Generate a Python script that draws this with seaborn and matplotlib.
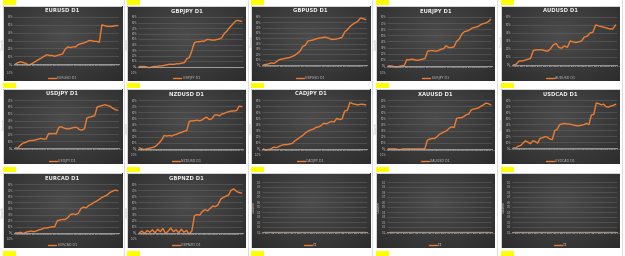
import numpy as np
import pandas as pd
import seaborn as sns
import matplotlib.pyplot as plt
import matplotlib.patches as patches
from matplotlib.lines import Line2D

# ==========================================
# Data (growth in %)
# ==========================================
eurusd = [0, 2, 3, 2, 1, -1, 0, 2, 4, 6, 8, 10, 12, 11, 11, 10, 11, 12, 13, 19, 22, 21, 22,
          22, 25, 26, 27, 28, 30, 30, 29, 29, 28, 50, 49, 48, 48, 48, 49, 49]
gbpjpy = [0, 0, 0, -1, -2, -1, 0, 0, 1, 1, 2, 3, 4, 4, 4, 5, 5, 6, 7, 14, 16, 28, 43, 45, 45,
          46, 46, 49, 49, 48, 48, 49, 50, 52, 60, 64, 70, 75, 80, 84, 83, 82]
gbpusd = [0, 1, 2, 4, 3, 6, 10, 11, 12, 13, 14, 16, 18, 22, 26, 35, 37, 45, 46, 47, 49, 50,
          51, 52, 52, 50, 48, 48, 49, 50, 52, 62, 66, 72, 76, 79, 82, 88, 87, 85]
eurjpy = [0, 0, -1, -2, -1, 0, 0, 10, 10, 11, 10, 9, 10, 11, 12, 24, 25, 25, 24, 25, 27, 28,
          33, 30, 30, 31, 40, 44, 52, 56, 57, 59, 62, 63, 64, 67, 69, 70, 72, 76]
audusd = [0, 1, 5, 5, 6, 7, 8, 18, 19, 19, 19, 18, 17, 20, 25, 27, 22, 21, 24, 22, 30, 29,
          28, 29, 30, 35, 36, 40, 41, 50, 49, 48, 47, 46, 45, 45, 50]
usdjpy = [0, 0, 4, 7, 8, 10, 11, 11, 12, 13, 14, 13, 13, 21, 21, 21, 21, 30, 31, 29, 28, 28,
          29, 30, 30, 27, 26, 28, 44, 45, 46, 47, 60, 61, 62, 63, 62, 61, 58, 56, 55]
nzdusd = [2, 0, -1, 0, 1, 2, 3, 6, 10, 15, 22, 21, 22, 21, 23, 24, 26, 27, 29, 30, 45, 46,
          46, 47, 46, 47, 50, 52, 48, 49, 55, 56, 54, 57, 58, 60, 61, 62, 62, 63, 70, 69]
cadjpy = [0, -2, -1, 0, 3, 2, 4, 6, 7, 7, 8, 9, 13, 16, 19, 22, 26, 29, 31, 32, 35, 36, 38,
          42, 41, 43, 45, 44, 50, 48, 49, 62, 63, 76, 74, 73, 72, 73, 73, 72]
xauusd = [0, 0, 0, 0, -1, -1, 0, 0, 0, 0, 0, 0, 0, 0, 0, 0, 14, 16, 17, 17, 20, 24, 26, 28,
          30, 34, 36, 35, 50, 51, 51, 53, 56, 57, 64, 65, 66, 67, 70, 72, 75, 74, 72]
usdcad = [0, 0, 3, 4, 8, 12, 10, 7, 12, 11, 8, 16, 17, 19, 18, 15, 14, 29, 31, 39, 40, 41,
          40, 40, 39, 38, 37, 37, 38, 39, 41, 39, 55, 56, 75, 74, 72, 73, 69, 68, 70, 71, 73]
eurcad = [0, 0, 1, -1, 1, 2, 3, 2, 3, 5, 6, 8, 8, 9, 10, 10, 20, 21, 22, 22, 25, 30, 31, 30,
          32, 40, 42, 41, 45, 47, 50, 52, 55, 58, 60, 62, 66, 68, 70, 69]
gbpnzd = [0, 3, -1, 4, 1, 5, 0, 6, 2, 7, -1, 3, 8, 2, 5, 0, 6, 1, 4, -2, 3, 28, 30, 29, 35,
          38, 36, 40, 44, 43, 46, 55, 58, 60, 62, 70, 72, 68, 66, 65]
empty = [0] * 33

titles = ["EURUSD D1", "GBPJPY D1", "GBPUSD D1", "EURJPY D1", "AUDUSD D1",
          "USDJPY D1", "NZDUSD D1", "CADJPY D1", "XAUUSD D1", "USDCAD D1",
          "EURCAD D1", "GBPNZD D1", "", "", ""]
series = [eurusd, gbpjpy, gbpusd, eurjpy, audusd,
          usdjpy, nzdusd, cadjpy, xauusd, usdcad,
          eurcad, gbpnzd, empty, empty, empty]

# tick labels: trade dates
dates = list(pd.date_range("2019-01-07", periods=45, freq="7D").strftime("%d.%m.%y"))

# ==========================================
# Layout (pixels)
# ==========================================
W, H = 625, 256
col_x0 = [3, 127, 251, 376, 501]
row_y0 = [6, 89, 173]
box_w, box_h = 119, 75

sns.set_style("dark")
plt.rcParams["font.family"] = ["DejaVu Sans"]

fig = plt.figure(figsize=(W / 100, H / 100), dpi=100)
fig.patch.set_facecolor("white")


def fig_rect(x, y, w, h):
    return [x / W, 1 - (y + h) / H, w / W, h / H]


# radial gradient used for the chart area
gy, gx = np.mgrid[0:1:80j, 0:1:120j]
dist = np.sqrt((gx - 0.5) ** 2 + ((gy - 0.4) * 0.9) ** 2)
shade = np.clip(1 - dist / 0.75, 0, 1)
dark = np.array([0.17, 0.17, 0.17])
light = np.array([0.30, 0.30, 0.30])
grad = dark + (light - dark) * shade[..., None]

orange = "#ED7D31"
txt = "#bfbfbf"

# spreadsheet cell lines and yellow markers
for cx in col_x0:
    fig.add_artist(Line2D([(cx + 121) / W] * 2, [0, 1], color="#d6d6d6", lw=0.6))
    for yy in [0, 83, 167, 251]:
        fig.add_artist(patches.Rectangle((cx / W, 1 - (yy + 5) / H), 13 / W, 5 / H,
                                         transform=fig.transFigure, color="#FFFF00", lw=0))

for i, (title, vals) in enumerate(zip(titles, series)):
    r, c = divmod(i, 5)
    bx, by = col_x0[c], row_y0[r]

    # chart area
    frame = fig.add_axes(fig_rect(bx, by, box_w, box_h))
    frame.imshow(grad, extent=[0, 1, 0, 1], aspect="auto", origin="upper")
    frame.add_patch(patches.Rectangle((0, 0), 1, 1, transform=frame.transAxes, fill=False,
                                      edgecolor="#d9d9d9", lw=0.7))
    frame.set_axis_off()

    vmin, vmax = min(vals), max(vals)
    if vmax == 0:
        bottom, top, step = 0, 1, 0.1
    else:
        bottom = -10 if vmin < 0 else 0
        top = (np.floor(vmax / 10) + 1) * 10
        step = 10

    top_off = 11 if title else 9
    bot_off = 9 if bottom < 0 else 16
    ax = fig.add_axes(fig_rect(bx + 11, by + top_off, box_w - 14, box_h - top_off - bot_off))
    ax.patch.set_alpha(0)

    df = pd.DataFrame({"x": np.arange(len(vals)), "growth": vals})
    sns.lineplot(data=df, x="x", y="growth", ax=ax, color=orange, linewidth=1.0,
                 label=title if title else "D1", legend=False)

    ax.set_xlim(-0.5, len(vals) - 0.5)
    ax.set_ylim(bottom, top)
    yt = np.arange(bottom, top + step / 2, step)
    ax.set_yticks(yt)
    if step < 1:
        ax.set_yticklabels([f"{v:.1f}" for v in yt])
    else:
        ax.set_yticklabels([f"{v:.0f}%" for v in yt])
    xt = np.arange(0, len(vals), 2)
    ax.set_xticks(xt)
    ax.set_xticklabels([dates[k] for k in xt], rotation=90)
    ax.tick_params(axis="both", length=0, pad=0.6, labelsize=1.9, labelcolor=txt)
    ax.tick_params(axis="x", labelsize=1.6)
    ax.grid(axis="y", color="#626262", lw=0.4)
    ax.grid(axis="x", visible=False)
    ax.set_axisbelow(True)
    for s in ["top", "right", "left"]:
        ax.spines[s].set_visible(False)
    ax.spines["bottom"].set_position(("data", 0))
    ax.spines["bottom"].set_color("#a6a6a6")
    ax.spines["bottom"].set_linewidth(0.6)
    ax.set_xlabel("")
    ax.set_ylabel("Growth", fontsize=2.4, color=txt, labelpad=1)

    if title:
        fig.text((bx + box_w / 2) / W, 1 - (by + 5) / H, title, ha="center", va="center",
                 fontsize=3.8, fontweight="bold", color="#f2f2f2")

    handle = Line2D([], [], color=orange, lw=1.0)
    fig.legend([handle], [title if title else "D1"], loc="center",
               bbox_to_anchor=((bx + box_w / 2) / W, 1 - (by + box_h - 3) / H),
               frameon=False, fontsize=2.3, labelcolor=txt, handlelength=2.5,
               handletextpad=0.4, borderpad=0)

fig.savefig("out.png", dpi=100, facecolor=fig.get_facecolor())
